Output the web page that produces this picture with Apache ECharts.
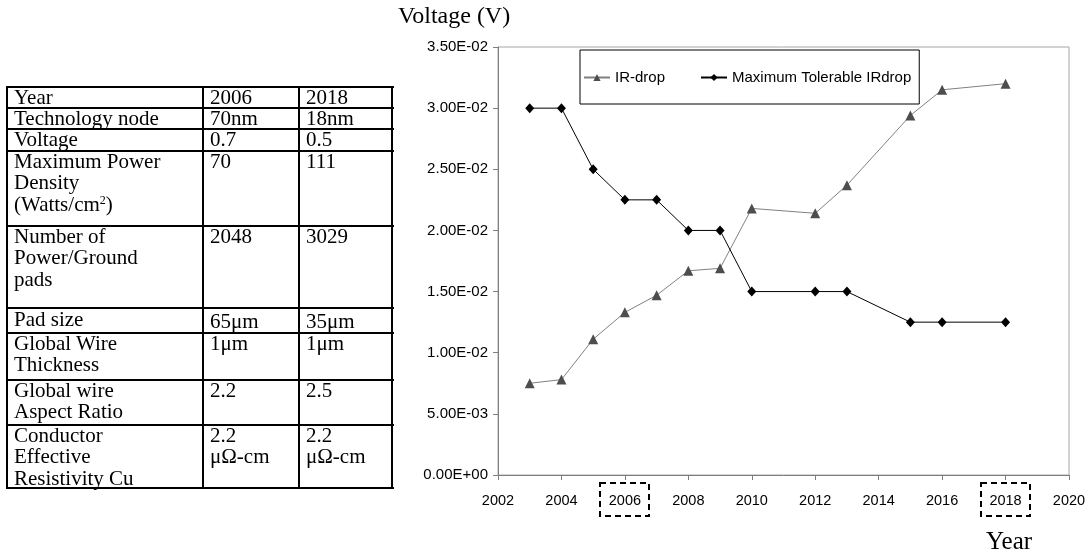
<!DOCTYPE html>
<html>
<head>
<meta charset="utf-8">
<script src="https://cdn.jsdelivr.net/npm/echarts@6/dist/echarts.min.js"></script>
<style>
  html, body { margin:0; padding:0; background:#fff; }
  #wrap { position:relative; width:1092px; height:560px; overflow:hidden; }
  #chart { position:absolute; left:0; top:0; width:1092px; height:560px; }
  #tbl { position:absolute; left:0; top:0; width:400px; height:560px;
         font-family:"Liberation Serif","Times New Roman",serif; font-size:21px; line-height:21.3px; color:#000; }
  #tbl .ln { position:absolute; background:#000; }
  #tbl .tx { position:absolute; white-space:nowrap; }
  #tbl sup { font-size:12px; line-height:0; vertical-align:7px; }
</style>
</head>
<body>
<div id="wrap">
  <div id="chart"></div>
  <div id="tbl"></div>
</div>
<script>
// ---------- data ----------
const years      = [2003, 2004, 2005, 2006, 2007, 2008, 2009, 2010, 2012, 2013, 2015, 2016, 2018];
const irDrop     = [0.0075, 0.0078, 0.0111, 0.0133, 0.0147, 0.0167, 0.0169, 0.0218, 0.0214, 0.0237, 0.0294, 0.0315, 0.0320];
const maxTolIR   = [0.0300, 0.0300, 0.0250, 0.0225, 0.0225, 0.0200, 0.0200, 0.0150, 0.0150, 0.0150, 0.0125, 0.0125, 0.0125];
const seriesNames = ['IR-drop', 'Maximum Tolerable IRdrop'];
const highlightYears = [2006, 2018];

const tableCol0 = ['Year', 'Technology node', 'Voltage', 'Maximum Power<br>Density<br>(Watts/cm<sup>2</sup>)',
                   'Number of<br>Power/Ground<br>pads', 'Pad size', 'Global Wire<br>Thickness',
                   'Global wire<br>Aspect Ratio', 'Conductor<br>Effective<br>Resistivity Cu'];
const tableCol2006 = ['2006', '70nm', '0.7', '70', '2048', '65&mu;m', '1&mu;m', '2.2', '2.2<br>&mu;&Omega;-cm'];
const tableCol2018 = ['2018', '18nm', '0.5', '111', '3029', '35&mu;m', '1&mu;m', '2.5', '2.2<br>&mu;&Omega;-cm'];

// table geometry (layout only)
const rowBorders = [87, 108, 129, 151, 226, 308, 333, 380, 425, 488];
const colBorders = [7, 203, 299, 392];

// ---------- table ----------
const tbl = document.getElementById('tbl');
function addDiv(cls, l, t, w, h, html) {
  const d = document.createElement('div');
  d.className = cls;
  d.style.left = l + 'px'; d.style.top = t + 'px';
  if (w != null) d.style.width = w + 'px';
  if (h != null) d.style.height = h + 'px';
  if (html != null) d.innerHTML = html;
  tbl.appendChild(d);
}
const T = rowBorders[0], B = rowBorders[rowBorders.length - 1];
rowBorders.forEach(y => addDiv('ln', colBorders[0], y - 1, colBorders[3] - colBorders[0] + 2, 2));
colBorders.forEach(x => addDiv('ln', x - 1, T - 1, 2, B - T + 2));
const cols = [tableCol0, tableCol2006, tableCol2018];
for (let r = 0; r < tableCol0.length; r++) {
  for (let c = 0; c < 3; c++) {
    const dy = (r === 5) ? (c > 0 ? 3 : 1) : 0;
    addDiv('tx', colBorders[c] + 7, rowBorders[r] + dy, null, null, cols[c][r]);
  }
}

// ---------- chart ----------
function sciFmt(v) {
  if (v === 0) return '0.00E+00';
  const e = Math.floor(Math.log10(Math.abs(v)) + 1e-9);
  const m = v / Math.pow(10, e);
  return m.toFixed(2) + 'E' + (e < 0 ? '-' : '+') + String(Math.abs(e)).padStart(2, '0');
}
const sans = '"Liberation Sans", Arial, sans-serif';
const serif = '"Liberation Serif", "Times New Roman", serif';

const chart = echarts.init(document.getElementById('chart'), null, { renderer: 'canvas' });
chart.setOption({
  animation: false,
  backgroundColor: 'transparent',
  title: [
    { text: 'Voltage (V)', left: 393, top: 0, padding: 5, textStyle: { fontFamily: serif, fontSize: 24, fontWeight: 'normal', color: '#000' } },
    { text: 'Year', left: 981, top: 525, padding: 5, textStyle: { fontFamily: serif, fontSize: 25, fontWeight: 'normal', color: '#000' } }
  ],
  grid: { left: 498, right: 23, top: 47, bottom: 85, containLabel: false, show: true, borderColor: '#a6a6a6', borderWidth: 1, backgroundColor: 'transparent' },
  legend: {
    data: seriesNames, left: 580, top: 50, orient: 'horizontal',
    padding: [20, 8, 19, 3], itemGap: 35, itemWidth: 26, itemHeight: 9,
    borderColor: '#000', borderWidth: 1, backgroundColor: '#fff',
    textStyle: { fontFamily: sans, fontSize: 15, color: '#000' }
  },
  xAxis: {
    type: 'value', min: 2002, max: 2020, interval: 2,
    axisLine: { show: true, lineStyle: { color: '#7f7f7f', width: 1 } },
    axisTick: { show: true, inside: false, length: 5, lineStyle: { color: '#7f7f7f' } },
    axisLabel: { margin: 18, fontFamily: sans, fontSize: 14.5, color: '#000', formatter: v => String(v) },
    splitLine: { show: false }
  },
  yAxis: {
    type: 'value', min: 0, max: 0.035, interval: 0.005,
    axisLine: { show: true, lineStyle: { color: '#7f7f7f', width: 1 } },
    axisTick: { show: true, inside: false, length: 5, lineStyle: { color: '#7f7f7f' } },
    axisLabel: { margin: 10, fontFamily: sans, fontSize: 15, color: '#000', formatter: sciFmt },
    splitLine: { show: false }
  },
  series: [
    {
      name: seriesNames[0], type: 'line', data: years.map((y, i) => [y, irDrop[i]]),
      symbol: 'triangle', symbolSize: 10, showAllSymbol: true,
      lineStyle: { color: '#808080', width: 1 },
      itemStyle: { color: '#4d4d4d', borderWidth: 0 }
    },
    {
      name: seriesNames[1], type: 'line', data: years.map((y, i) => [y, maxTolIR[i]]),
      symbol: 'diamond', symbolSize: [9, 10], showAllSymbol: true,
      lineStyle: { color: '#000', width: 1 },
      itemStyle: { color: '#000', borderWidth: 0 }
    }
  ]
});

// dashed boxes around highlighted year labels
const boxes = highlightYears.map(yr => {
  const px = chart.convertToPixel({ xAxisIndex: 0 }, yr);
  const py = chart.convertToPixel({ yAxisIndex: 0 }, 0);
  return {
    type: 'rect', silent: true,
    shape: { x: Math.round(px - 24.5), y: Math.round(py + 8), width: 49, height: 33 },
    style: { fill: 'none', stroke: '#000', lineWidth: 2, lineDash: [6, 4] }
  };
});
chart.setOption({ graphic: boxes });
</script>
</body>
</html>
